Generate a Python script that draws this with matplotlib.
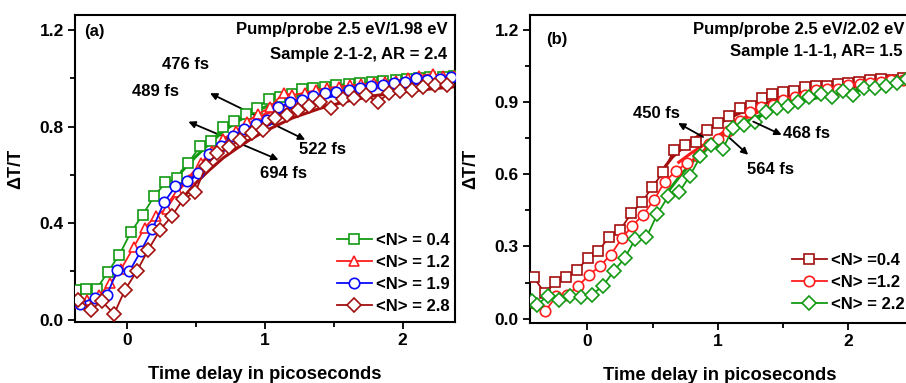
import matplotlib
matplotlib.use("Agg")
import matplotlib.pyplot as plt
from matplotlib.ticker import MultipleLocator, FormatStrFormatter

plt.rcParams['font.family'] = ['Liberation Sans', 'DejaVu Sans']
plt.rcParams['font.weight'] = 'bold'

# ---------------- Panel (a) data ----------------
a_x_04 = [-0.368, -0.295, -0.218, -0.138, -0.053, 0.031, 0.116, 0.198, 0.281, 0.363, 0.447, 0.532,
          0.614, 0.696, 0.779, 0.863, 0.943, 1.028, 1.108, 1.197, 1.27, 1.354, 1.437, 1.52, 1.61,
          1.69, 1.78, 1.86, 1.95, 2.03, 2.12, 2.2, 2.29, 2.37]
a_y_04 = [0.121, 0.127, 0.127, 0.196, 0.269, 0.363, 0.434, 0.510, 0.568, 0.586, 0.648, 0.720,
          0.738, 0.797, 0.821, 0.851, 0.876, 0.913, 0.924, 0.935, 0.954, 0.959, 0.965, 0.972, 0.977,
          0.980, 0.986, 0.990, 0.993, 0.998, 1.003, 1.004, 1.007, 1.008]

a_x_12 = [-0.37, -0.29, -0.2, -0.12, -0.04, 0.05, 0.13, 0.21, 0.29, 0.37, 0.45, 0.54, 0.62, 0.70,
          0.79, 0.87, 0.95, 1.04, 1.137, 1.2, 1.29, 1.37, 1.45, 1.54, 1.62, 1.70, 1.79, 1.87, 1.95,
          2.04, 2.12, 2.22, 2.29, 2.37]
a_y_12 = [0.07, 0.08, 0.10, 0.15, 0.21, 0.30, 0.38, 0.43, 0.46, 0.53, 0.58, 0.65, 0.70, 0.75,
          0.78, 0.82, 0.85, 0.88, 0.94, 0.93, 0.94, 0.95, 0.96, 0.965, 0.97, 0.975, 0.98, 0.985, 0.99,
          1.0, 1.01, 1.018, 1.01, 1.01]

a_x_19 = [-0.339, -0.23, -0.145, -0.068, 0.019, 0.102, 0.186, 0.271, 0.353, 0.44, 0.52, 0.60,
          0.682, 0.767, 0.85, 0.938, 1.016, 1.1, 1.185, 1.27, 1.354, 1.44, 1.52, 1.61, 1.69, 1.77,
          1.857, 1.94, 2.02, 2.1, 2.18, 2.27, 2.35]
a_y_19 = [0.066, 0.09, 0.10, 0.204, 0.20, 0.283, 0.375, 0.486, 0.552, 0.575, 0.607, 0.687,
          0.72, 0.759, 0.79, 0.811, 0.825, 0.88, 0.90, 0.91, 0.927, 0.938, 0.945, 0.952, 0.959, 0.966,
          0.972, 0.98, 0.986, 1.0, 0.993, 0.996, 1.004]

a_x_28 = [-0.35, -0.26, -0.18, -0.092, -0.012, 0.073, 0.157, 0.242, 0.326, 0.411, 0.496, 0.576,
          0.658, 0.745, 0.822, 0.907, 0.99, 1.076, 1.16, 1.24, 1.318, 1.398, 1.482, 1.567, 1.65,
          1.734, 1.819, 1.9, 1.983, 2.067, 2.15, 2.237, 2.32]
a_y_28 = [0.083, 0.041, 0.076, 0.023, 0.124, 0.20, 0.29, 0.372, 0.428, 0.50, 0.527, 0.638,
          0.69, 0.714, 0.745, 0.775, 0.786, 0.834, 0.848, 0.869, 0.886, 0.903, 0.876, 0.913, 0.917,
          0.931, 0.90, 0.938, 0.949, 0.952, 0.963, 0.972, 0.972]

# fit curves (panel a)
a_fx_04 = [0.40, 0.50, 0.60, 0.70, 0.80, 0.90, 1.0, 1.2, 1.4, 1.6, 1.8, 2.1, 2.38]
a_fy_04 = [0.615, 0.675, 0.73, 0.78, 0.82, 0.853, 0.88, 0.925, 0.952, 0.97, 0.981, 0.991, 0.997]
a_fx_12 = [0.30, 0.40, 0.50, 0.60, 0.70, 0.80, 0.90, 1.0, 1.2, 1.4, 1.6, 1.8, 2.1, 2.38]
a_fy_12 = [0.48, 0.555, 0.62, 0.68, 0.73, 0.77, 0.815, 0.85, 0.90, 0.935, 0.955, 0.97, 0.985, 0.995]
a_fx_19 = [0.45, 0.55, 0.65, 0.75, 0.85, 1.0, 1.2, 1.4, 1.6, 1.8, 2.1, 2.38]
a_fy_19 = [0.57, 0.635, 0.69, 0.735, 0.775, 0.83, 0.88, 0.915, 0.94, 0.96, 0.978, 0.99]
a_fx_28 = [0.40, 0.50, 0.60, 0.70, 0.80, 0.90, 1.0, 1.2, 1.4, 1.6, 1.8, 2.1, 2.38]
a_fy_28 = [0.50, 0.565, 0.62, 0.67, 0.71, 0.748, 0.78, 0.835, 0.875, 0.905, 0.928, 0.95, 0.965]

# ---------------- Panel (b) data ----------------
b_x_04 = [-0.412, -0.327, -0.246, -0.161, -0.079, 0.005, 0.082, 0.166, 0.253, 0.338, 0.419, 0.499,
          0.581, 0.665, 0.752, 0.836, 0.918, 1.003, 1.087, 1.169, 1.253, 1.335, 1.417, 1.501, 1.586,
          1.668, 1.752, 1.834, 1.918, 2.0, 2.084, 2.166, 2.25, 2.332, 2.417]
b_y_04 = [0.172, 0.107, 0.151, 0.172, 0.203, 0.252, 0.28, 0.339, 0.37, 0.439, 0.484, 0.549,
          0.608, 0.702, 0.72, 0.736, 0.785, 0.815, 0.844, 0.875, 0.882, 0.916, 0.933, 0.944, 0.948,
          0.962, 0.967, 0.967, 0.974, 0.979, 0.985, 0.992, 0.995, 0.992, 0.999]

b_x_12 = [-0.412, -0.322, -0.238, -0.156, -0.072, 0.013, 0.095, 0.179, 0.266, 0.345, 0.427, 0.512,
          0.593, 0.678, 0.765, 0.849, 0.934, 1.0, 1.08, 1.17, 1.25, 1.33, 1.42, 1.5, 1.59, 1.67,
          1.75, 1.84, 1.92, 2.0, 2.09, 2.17, 2.25, 2.33, 2.42]
b_y_12 = [0.065, 0.033, 0.093, 0.10, 0.134, 0.183, 0.217, 0.266, 0.335, 0.386, 0.432, 0.494,
          0.57, 0.612, 0.649, 0.674, 0.727, 0.745, 0.78, 0.82, 0.86, 0.88, 0.89, 0.91, 0.92, 0.93,
          0.95, 0.955, 0.955, 0.97, 0.975, 0.98, 0.985, 0.99, 0.99]

b_x_22 = [-0.422, -0.384, -0.302, -0.217, -0.13, -0.046, 0.036, 0.12, 0.202, 0.286, 0.368, 0.453,
          0.537, 0.619, 0.703, 0.785, 0.867, 0.951, 1.036, 1.118, 1.2, 1.284, 1.368, 1.45, 1.535,
          1.616, 1.7, 1.788, 1.872, 1.957, 2.038, 2.12, 2.205, 2.289, 2.371, 2.448]
b_y_22 = [0.072, 0.058, 0.096, 0.079, 0.096, 0.089, 0.10, 0.137, 0.197, 0.252, 0.332, 0.338,
          0.436, 0.508, 0.525, 0.594, 0.674, 0.722, 0.704, 0.792, 0.806, 0.819, 0.857, 0.875, 0.884,
          0.902, 0.923, 0.933, 0.923, 0.948, 0.93, 0.958, 0.96, 0.965, 0.979, 0.995]

# fit curves (panel b)
b_fx_04 = [0.55, 0.65, 0.75, 0.85, 1.0, 1.15, 1.3, 1.5, 1.7, 1.9, 2.1, 2.3, 2.47]
b_fy_04 = [0.60, 0.67, 0.72, 0.76, 0.81, 0.85, 0.885, 0.92, 0.945, 0.963, 0.976, 0.985, 0.992]
b_fx_12 = [0.70, 0.80, 0.90, 1.0, 1.1, 1.2, 1.35, 1.5, 1.7, 1.9, 2.1, 2.3, 2.47]
b_fy_12 = [0.65, 0.69, 0.725, 0.76, 0.795, 0.83, 0.87, 0.9, 0.93, 0.952, 0.967, 0.978, 0.986]
b_fx_22 = [0.62, 0.72, 0.82, 0.92, 1.0, 1.1, 1.2, 1.35, 1.5, 1.7, 1.9, 2.1, 2.3, 2.47]
b_fy_22 = [0.53, 0.6, 0.66, 0.71, 0.745, 0.785, 0.815, 0.85, 0.88, 0.91, 0.935, 0.955, 0.97, 0.985]

a_labels = ['<N> = 0.4', '<N> = 1.2', '<N> = 1.9', '<N> = 2.8']
b_labels = ['<N> =0.4', '<N> =1.2', '<N> = 2.2']

GREEN = '#139a13'
RED = '#ff1c1c'
BLUE = '#0a0aff'
DRED = '#a30f0f'

fig = plt.figure(figsize=(9.06, 3.83), dpi=100)
axa = fig.add_axes([75/906, 1-322/383, 380/906, 307/383])
axb = fig.add_axes([530/906, 1-323/383, 380/906, 308/383])

FS = 12
TFS = 12.5
mk = dict(markersize=7.5, markerfacecolor='white', markeredgewidth=1.2, linewidth=1.3)

def series(ax, x, y, fx, fy, c, m, lab):
    ax.plot(fx, fy, color=c, linewidth=2.2, zorder=2)
    ax.plot(x, y, color=c, marker=m, label=lab, zorder=3, **mk)

series(axa, a_x_04, a_y_04, a_fx_04, a_fy_04, GREEN, 's', a_labels[0])
series(axa, a_x_12, a_y_12, a_fx_12, a_fy_12, RED, '^', a_labels[1])
series(axa, a_x_19, a_y_19, a_fx_19, a_fy_19, BLUE, 'o', a_labels[2])
series(axa, a_x_28, a_y_28, a_fx_28, a_fy_28, DRED, 'D', a_labels[3])

series(axb, b_x_04, b_y_04, b_fx_04, b_fy_04, DRED, 's', b_labels[0])
series(axb, b_x_12, b_y_12, b_fx_12, b_fy_12, RED, 'o', b_labels[1])
series(axb, b_x_22, b_y_22, b_fx_22, b_fy_22, GREEN, 'D', b_labels[2])

axa.set_xlim(-0.375, 2.38)
axa.set_ylim(-0.01, 1.262)
axb.set_xlim(-0.44, 2.473)
axb.set_ylim(-0.018, 1.262)

axa.yaxis.set_major_locator(MultipleLocator(0.4))
axa.yaxis.set_minor_locator(MultipleLocator(0.2))
axb.yaxis.set_major_locator(MultipleLocator(0.3))
axb.yaxis.set_minor_locator(MultipleLocator(0.15))
for ax in (axa, axb):
    ax.xaxis.set_major_locator(MultipleLocator(1))
    ax.xaxis.set_minor_locator(MultipleLocator(0.5))
    ax.yaxis.set_major_formatter(FormatStrFormatter('%.1f'))
    ax.tick_params(which='major', direction='out', length=5, width=1.3, labelsize=TFS, pad=3)
    ax.tick_params(which='minor', direction='out', length=3.5, width=1.3)
    for s in ax.spines.values():
        s.set_linewidth(1.5)
    for lab in ax.get_xticklabels() + ax.get_yticklabels():
        lab.set_fontweight('bold')
    ax.set_xlabel('Time delay in picoseconds', fontsize=13.2, fontweight='bold', labelpad=13)
    ax.set_ylabel('ΔT/T', fontsize=13, fontweight='bold', labelpad=11)

# legends
la = axa.legend(loc='lower right', bbox_to_anchor=(0.985, 0.025), frameon=False, fontsize=FS,
                handlelength=2.1, handletextpad=0.25, labelspacing=0.42, borderpad=0, borderaxespad=0)
lb = axb.legend(loc='lower right', bbox_to_anchor=(0.985, 0.035), frameon=False, fontsize=FS,
                handlelength=2.1, handletextpad=0.25, labelspacing=0.42, borderpad=0, borderaxespad=0)
for lg in (la, lb):
    for t in lg.get_texts():
        t.set_fontweight('bold')

# panel texts
axa.text(0.025, 0.945, '(a)', transform=axa.transAxes, fontsize=FS, fontweight='bold', va='center')
axa.text(0.98, 0.953, 'Pump/probe 2.5 eV/1.98 eV', transform=axa.transAxes, fontsize=FS,
         fontweight='bold', ha='right', va='center')
axa.text(0.98, 0.872, 'Sample 2-1-2, AR = 2.4', transform=axa.transAxes, fontsize=FS,
         fontweight='bold', ha='right', va='center')

axb.text(0.042, 0.92, '(b)', transform=axb.transAxes, fontsize=FS, fontweight='bold', va='center')
axb.text(0.43, 0.953, 'Pump/probe 2.5 eV/2.02 eV', transform=axb.transAxes, fontsize=FS,
         fontweight='bold', ha='left', va='center')
axb.text(0.981, 0.88, 'Sample 1-1-1, AR= 1.5', transform=axb.transAxes, fontsize=FS,
         fontweight='bold', ha='right', va='center')

arw2 = dict(arrowstyle='<|-|>', color='black', lw=1.3, mutation_scale=10, shrinkA=0, shrinkB=0)
arw1 = dict(arrowstyle='-|>', color='black', lw=1.3, mutation_scale=10, shrinkA=0, shrinkB=0)

# panel (a) arrows and labels
axa.annotate('', xy=(0.604, 0.938), xytext=(1.294, 0.745), arrowprops=arw2, zorder=1)
axa.annotate('', xy=(0.447, 0.82), xytext=(1.10, 0.662), arrowprops=arw2, zorder=1)
axa.text(0.423, 1.055, '476 fs', fontsize=FS, fontweight='bold', ha='center', va='center')
axa.text(1.417, 0.703, '522 fs', fontsize=FS, fontweight='bold', ha='center', va='center')
axa.text(0.211, 0.945, '489 fs', fontsize=FS, fontweight='bold', ha='center', va='center')
axa.text(1.136, 0.607, '694 fs', fontsize=FS, fontweight='bold', ha='center', va='center')

# panel (b) arrows and labels
axb.annotate('', xy=(0.695, 0.813), xytext=(0.887, 0.755), arrowprops=arw1, zorder=4)
axb.annotate('', xy=(1.489, 0.764), xytext=(1.271, 0.819), arrowprops=arw1, zorder=4)
axb.annotate('', xy=(1.233, 0.681), xytext=(1.092, 0.75), arrowprops=arw1, zorder=4)
axb.text(0.53, 0.854, '450 fs', fontsize=FS, fontweight='bold', ha='center', va='center')
axb.text(1.497, 0.771, '468 fs', fontsize=FS, fontweight='bold', ha='left', va='center')
axb.text(1.40, 0.619, '564 fs', fontsize=FS, fontweight='bold', ha='center', va='center')

fig.savefig('out.png', dpi=100)
